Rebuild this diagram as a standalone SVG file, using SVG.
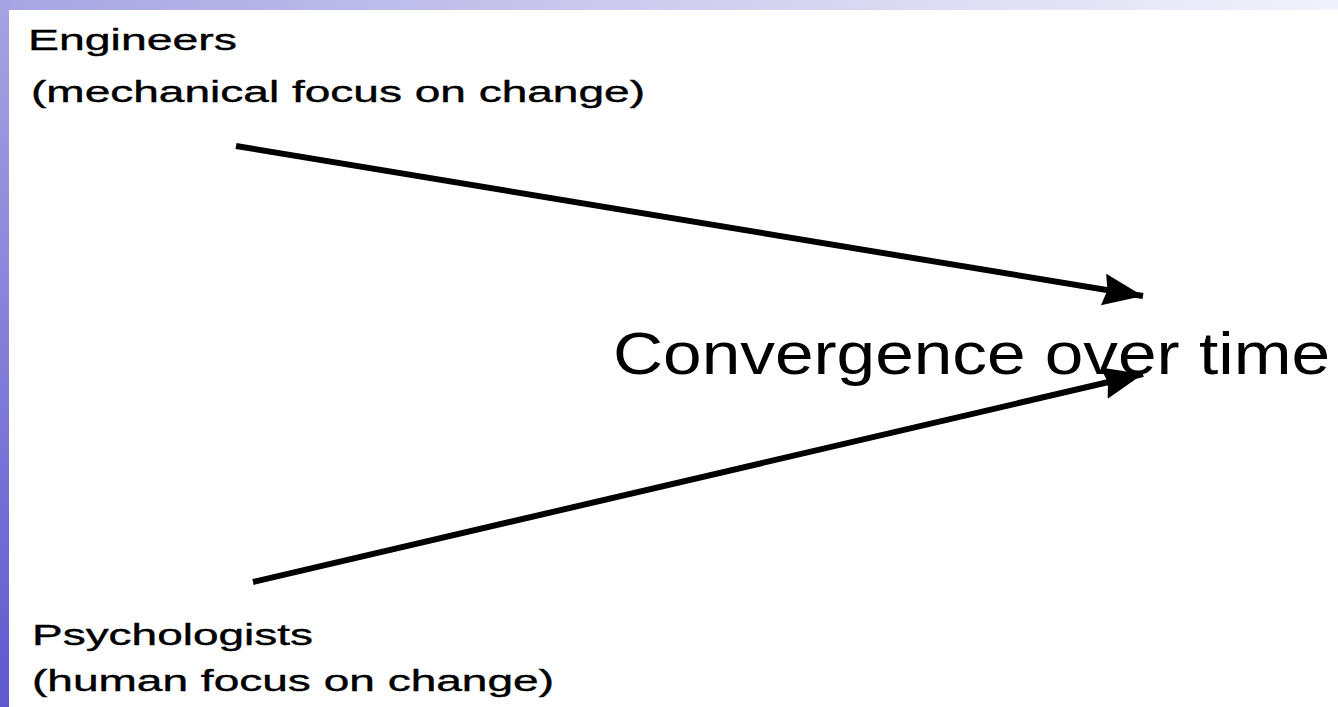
<svg xmlns="http://www.w3.org/2000/svg" width="1338" height="707" viewBox="0 0 1338 707">
  <defs>
    <linearGradient id="topBand" x1="0" y1="0" x2="1" y2="0">
      <stop offset="0" stop-color="#a6a4e2"/>
      <stop offset="0.5" stop-color="#cfcdee"/>
      <stop offset="1" stop-color="#f2f2fb"/>
    </linearGradient>
    <linearGradient id="leftBand" x1="0" y1="0" x2="0" y2="1">
      <stop offset="0" stop-color="#a6a4e2"/>
      <stop offset="1" stop-color="#5f58d0"/>
    </linearGradient>
    <marker id="arrow" markerUnits="userSpaceOnUse" markerWidth="44" markerHeight="36" refX="40" refY="16" orient="auto">
      <polygon points="0,0 40,16 0,32 4,16" fill="#000"/>
    </marker>
  </defs>
  <style>
    .label { font-family: "Liberation Sans", Arial, sans-serif; font-size: 30px; fill: #000; stroke: #000; stroke-width: 0.4; }
    .big { font-family: "Liberation Sans", Arial, sans-serif; font-size: 60px; fill: #000; }
    .conn { stroke: #000; stroke-width: 6; fill: none; }
  </style>
  <rect x="0" y="0" width="1338" height="707" fill="#ffffff"/>
  <rect x="0" y="0" width="1338" height="10" fill="url(#topBand)"/>
  <rect x="0" y="0" width="9" height="707" fill="url(#leftBand)"/>

  <g id="engineers">
    <text class="label" x="28" y="50" textLength="209" lengthAdjust="spacingAndGlyphs">Engineers</text>
    <text class="label" x="31" y="102" textLength="614" lengthAdjust="spacingAndGlyphs">(mechanical focus on change)</text>
  </g>
  <g id="psychologists">
    <text class="label" x="32" y="645" textLength="281" lengthAdjust="spacingAndGlyphs">Psychologists</text>
    <text class="label" x="32" y="691" textLength="522" lengthAdjust="spacingAndGlyphs">(human focus on change)</text>
  </g>
  <g id="convergence">
    <text class="big" x="613" y="374" textLength="717" lengthAdjust="spacingAndGlyphs">Convergence over time</text>
  </g>

  <g id="connectors">
    <line class="conn" x1="236" y1="146" x2="1143" y2="296" marker-end="url(#arrow)"/>
    <line class="conn" x1="253" y1="582" x2="1143" y2="374" marker-end="url(#arrow)"/>
  </g>
</svg>
